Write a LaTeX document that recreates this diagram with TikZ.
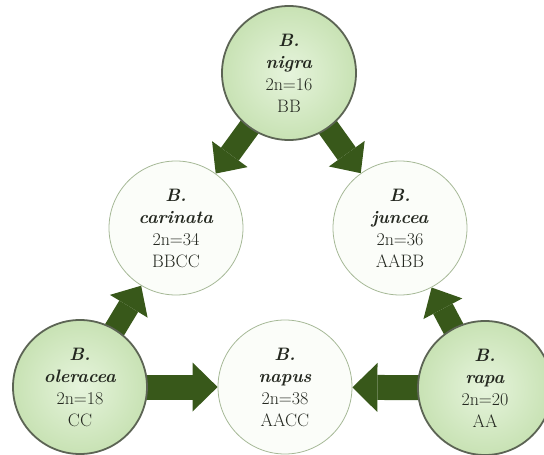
\documentclass[tikz,border=0pt]{standalone}
\usetikzlibrary{arrows.meta,backgrounds}
\definecolor{arrowgreen}{RGB}{56,88,26}
\definecolor{centergreen}{RGB}{230,244,220}
\definecolor{edgegreen}{RGB}{200,226,180}
\definecolor{rimgreen}{RGB}{92,100,84}
\definecolor{hybridrim}{RGB}{165,184,150}
\definecolor{hybridfill}{RGB}{251,253,249}
\definecolor{textgray}{RGB}{36,40,32}
\begin{document}
\begin{tikzpicture}[x=1pt,y=-1pt,
  species/.style={circle, minimum size=134pt, inner sep=0pt, align=center,
    text=textgray, font=\fontsize{18}{22}\selectfont},
  parent/.style={species, draw=rimgreen, line width=1.8pt,
    inner color=centergreen, outer color=edgegreen},
  hybrid/.style={species, draw=hybridrim, line width=0.8pt, fill=hybridfill},
  crossdiag/.style={draw=arrowgreen, line width=22pt,
    -{Triangle[width=44pt,length=24pt,line width=0pt]}},
  crossflat/.style={draw=arrowgreen, line width=25pt,
    -{Triangle[width=49pt,length=25pt,line width=0pt]}}
]
\useasboundingbox (0,0) rectangle (544,455);
\node[parent] (nigra)    at (289,73)  {\textbf{\textit{B.}}\\\textbf{\textit{nigra}}\\2n=16\\BB};
\node[hybrid] (carinata) at (176,228) {\textbf{\textit{B.}}\\\textbf{\textit{carinata}}\\2n=34\\BBCC};
\node[hybrid] (juncea)   at (400,228) {\textbf{\textit{B.}}\\\textbf{\textit{juncea}}\\2n=36\\AABB};
\node[parent] (oleracea) at (80,387)  {\textbf{\textit{B.}}\\\textbf{\textit{oleracea}}\\2n=18\\CC};
\node[hybrid] (napus)    at (285,387) {\textbf{\textit{B.}}\\\textbf{\textit{napus}}\\2n=38\\AACC};
\node[parent] (rapa)     at (485,388) {\textbf{\textit{B.}}\\\textbf{\textit{rapa}}\\2n=20\\AA};
\begin{scope}[on background layer]
  \draw[crossdiag] (nigra.center) -- (carinata);
  \draw[crossdiag] (nigra.center) -- (juncea);
  \draw[crossdiag] (oleracea.center) -- (carinata);
  \draw[crossdiag] (rapa.center) -- (juncea);
  \draw[crossflat] (oleracea.center) -- (napus);
  \draw[crossflat] (rapa.center) -- (napus);
\end{scope}
\end{tikzpicture}
\end{document}
